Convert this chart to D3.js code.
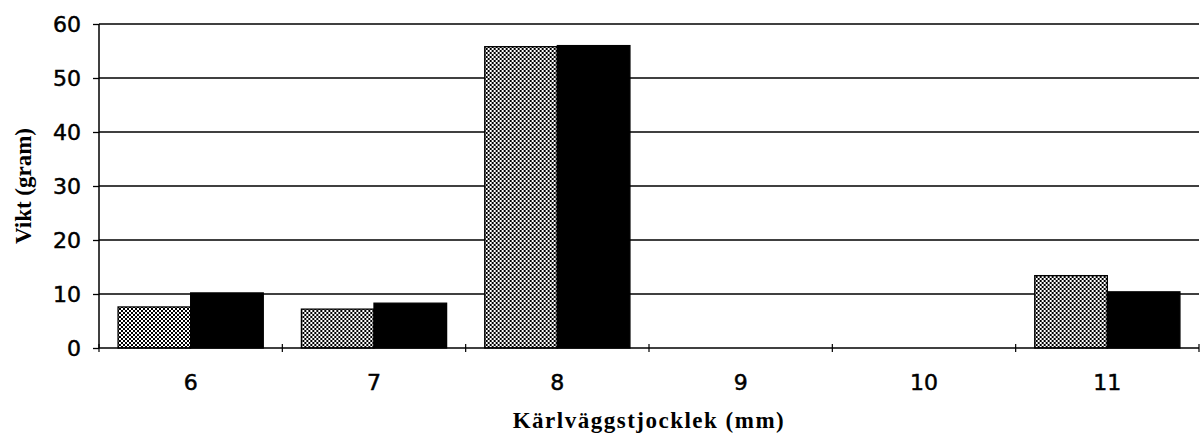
<!DOCTYPE html>
<html>
<head>
<meta charset="utf-8">
<script src="https://cdn.jsdelivr.net/npm/d3@7"></script>
<style>
  html, body { margin: 0; padding: 0; background: #fff; }
  svg { display: block; }
</style>
</head>
<body>
<svg id="chart" width="1200" height="437"></svg>
<script>
// Kärlväggstjocklek (mm) per category, two measurement series (gram)
const categories = ["6", "7", "8", "9", "10", "11"];
const seriesNames = ["serieA", "serieB"];
const seriesA = [7.6, 7.2, 55.8, null, null, 13.4];
const seriesB = [10.2, 8.3, 56.0, null, null, 10.4];
const yTicks = [0, 10, 20, 30, 40, 50, 60];

const svg = d3.select("#chart");
const margin = { left: 99, right: 1, top: 24, bottom: 89 };
const W = 1200, H = 437;
const plotW = W - margin.left - margin.right;
const plotH = H - margin.top - margin.bottom;

const defs = svg.append("defs");
const pat = defs.append("pattern")
  .attr("id", "stipple")
  .attr("patternUnits", "userSpaceOnUse")
  .attr("width", 4).attr("height", 4);
pat.append("rect").attr("width", 4).attr("height", 4).attr("fill", "#fff");
pat.append("rect").attr("x", 0).attr("y", 0).attr("width", 2).attr("height", 2).attr("fill", "#000");
pat.append("rect").attr("x", 2).attr("y", 2).attr("width", 2).attr("height", 2).attr("fill", "#000");

const g = svg.append("g").attr("transform", `translate(${margin.left},${margin.top})`);

const x = d3.scaleBand().domain(categories).range([0, plotW]).padding(0);
const y = d3.scaleLinear().domain([0, 60]).range([plotH, 0]);
const inset = x.bandwidth() * 0.104;
const xSub = d3.scaleBand().domain(seriesNames).range([inset, x.bandwidth() - inset]).padding(0);

// horizontal grid lines
g.append("g").selectAll("line").data(yTicks.filter(t => t > 0)).join("line")
  .attr("x1", 0).attr("x2", plotW)
  .attr("y1", d => y(d)).attr("y2", d => y(d))
  .attr("stroke", "#000").attr("stroke-width", 1.3);

// bars
const rows = categories.map((c, i) => ({ c, vals: [
  { s: "serieA", v: seriesA[i] },
  { s: "serieB", v: seriesB[i] }
]}));

const groups = g.append("g").selectAll("g").data(rows).join("g")
  .attr("transform", d => `translate(${x(d.c)},0)`);
groups.selectAll("rect").data(d => d.vals.filter(v => v.v != null)).join("rect")
  .attr("x", d => xSub(d.s))
  .attr("width", xSub.bandwidth())
  .attr("y", d => y(d.v))
  .attr("height", d => y(0) - y(d.v))
  .attr("fill", d => d.s === "serieA" ? "url(#stipple)" : "#000")
  .attr("stroke", "#000").attr("stroke-width", 1.3);

// y axis
const yAxis = g.append("g")
  .call(d3.axisLeft(y).tickValues(yTicks).tickSize(6).tickPadding(12).tickFormat(d3.format("d")));
yAxis.select(".domain").attr("stroke", "#000").attr("stroke-width", 1.5).attr("d", `M0,${plotH}V0`);
yAxis.selectAll(".tick line").attr("stroke", "#000").attr("stroke-width", 1.3);
yAxis.selectAll(".tick text")
  .attr("font-family", "DejaVu Sans, sans-serif")
  .attr("font-size", 22).attr("fill", "#000")
  .attr("stroke", "#000").attr("stroke-width", 0.5);

// x axis with boundary ticks
const xAxis = g.append("g").attr("transform", `translate(0,${plotH})`);
xAxis.append("line").attr("x1", 0).attr("x2", plotW)
  .attr("stroke", "#000").attr("stroke-width", 1.5);
const bounds = categories.map(c => x(c)).concat([x(categories[categories.length - 1]) + x.bandwidth()]);
xAxis.selectAll("line.tk").data(bounds).join("line").attr("class", "tk")
  .attr("x1", d => d).attr("x2", d => d).attr("y1", -4).attr("y2", 4)
  .attr("stroke", "#000").attr("stroke-width", 1.2);
xAxis.selectAll("text").data(categories).join("text")
  .attr("x", d => x(d) + x.bandwidth() / 2)
  .attr("y", 42)
  .attr("text-anchor", "middle")
  .attr("font-family", "DejaVu Sans, sans-serif")
  .attr("font-size", 22).attr("fill", "#000")
  .attr("stroke", "#000").attr("stroke-width", 0.5)
  .text(d => d);

// axis titles
svg.append("text")
  .attr("x", 649).attr("y", 428)
  .attr("text-anchor", "middle")
  .attr("font-family", "Liberation Serif, Times New Roman, serif")
  .attr("font-weight", "bold").attr("font-size", 23)
  .attr("letter-spacing", 1.5)
  .text("Kärlväggstjocklek (mm)");

svg.append("text")
  .attr("transform", "translate(31,186) rotate(-90)")
  .attr("text-anchor", "middle")
  .attr("font-family", "Liberation Serif, Times New Roman, serif")
  .attr("font-weight", "bold").attr("font-size", 23)
  .text("Vikt (gram)");
</script>
</body>
</html>
